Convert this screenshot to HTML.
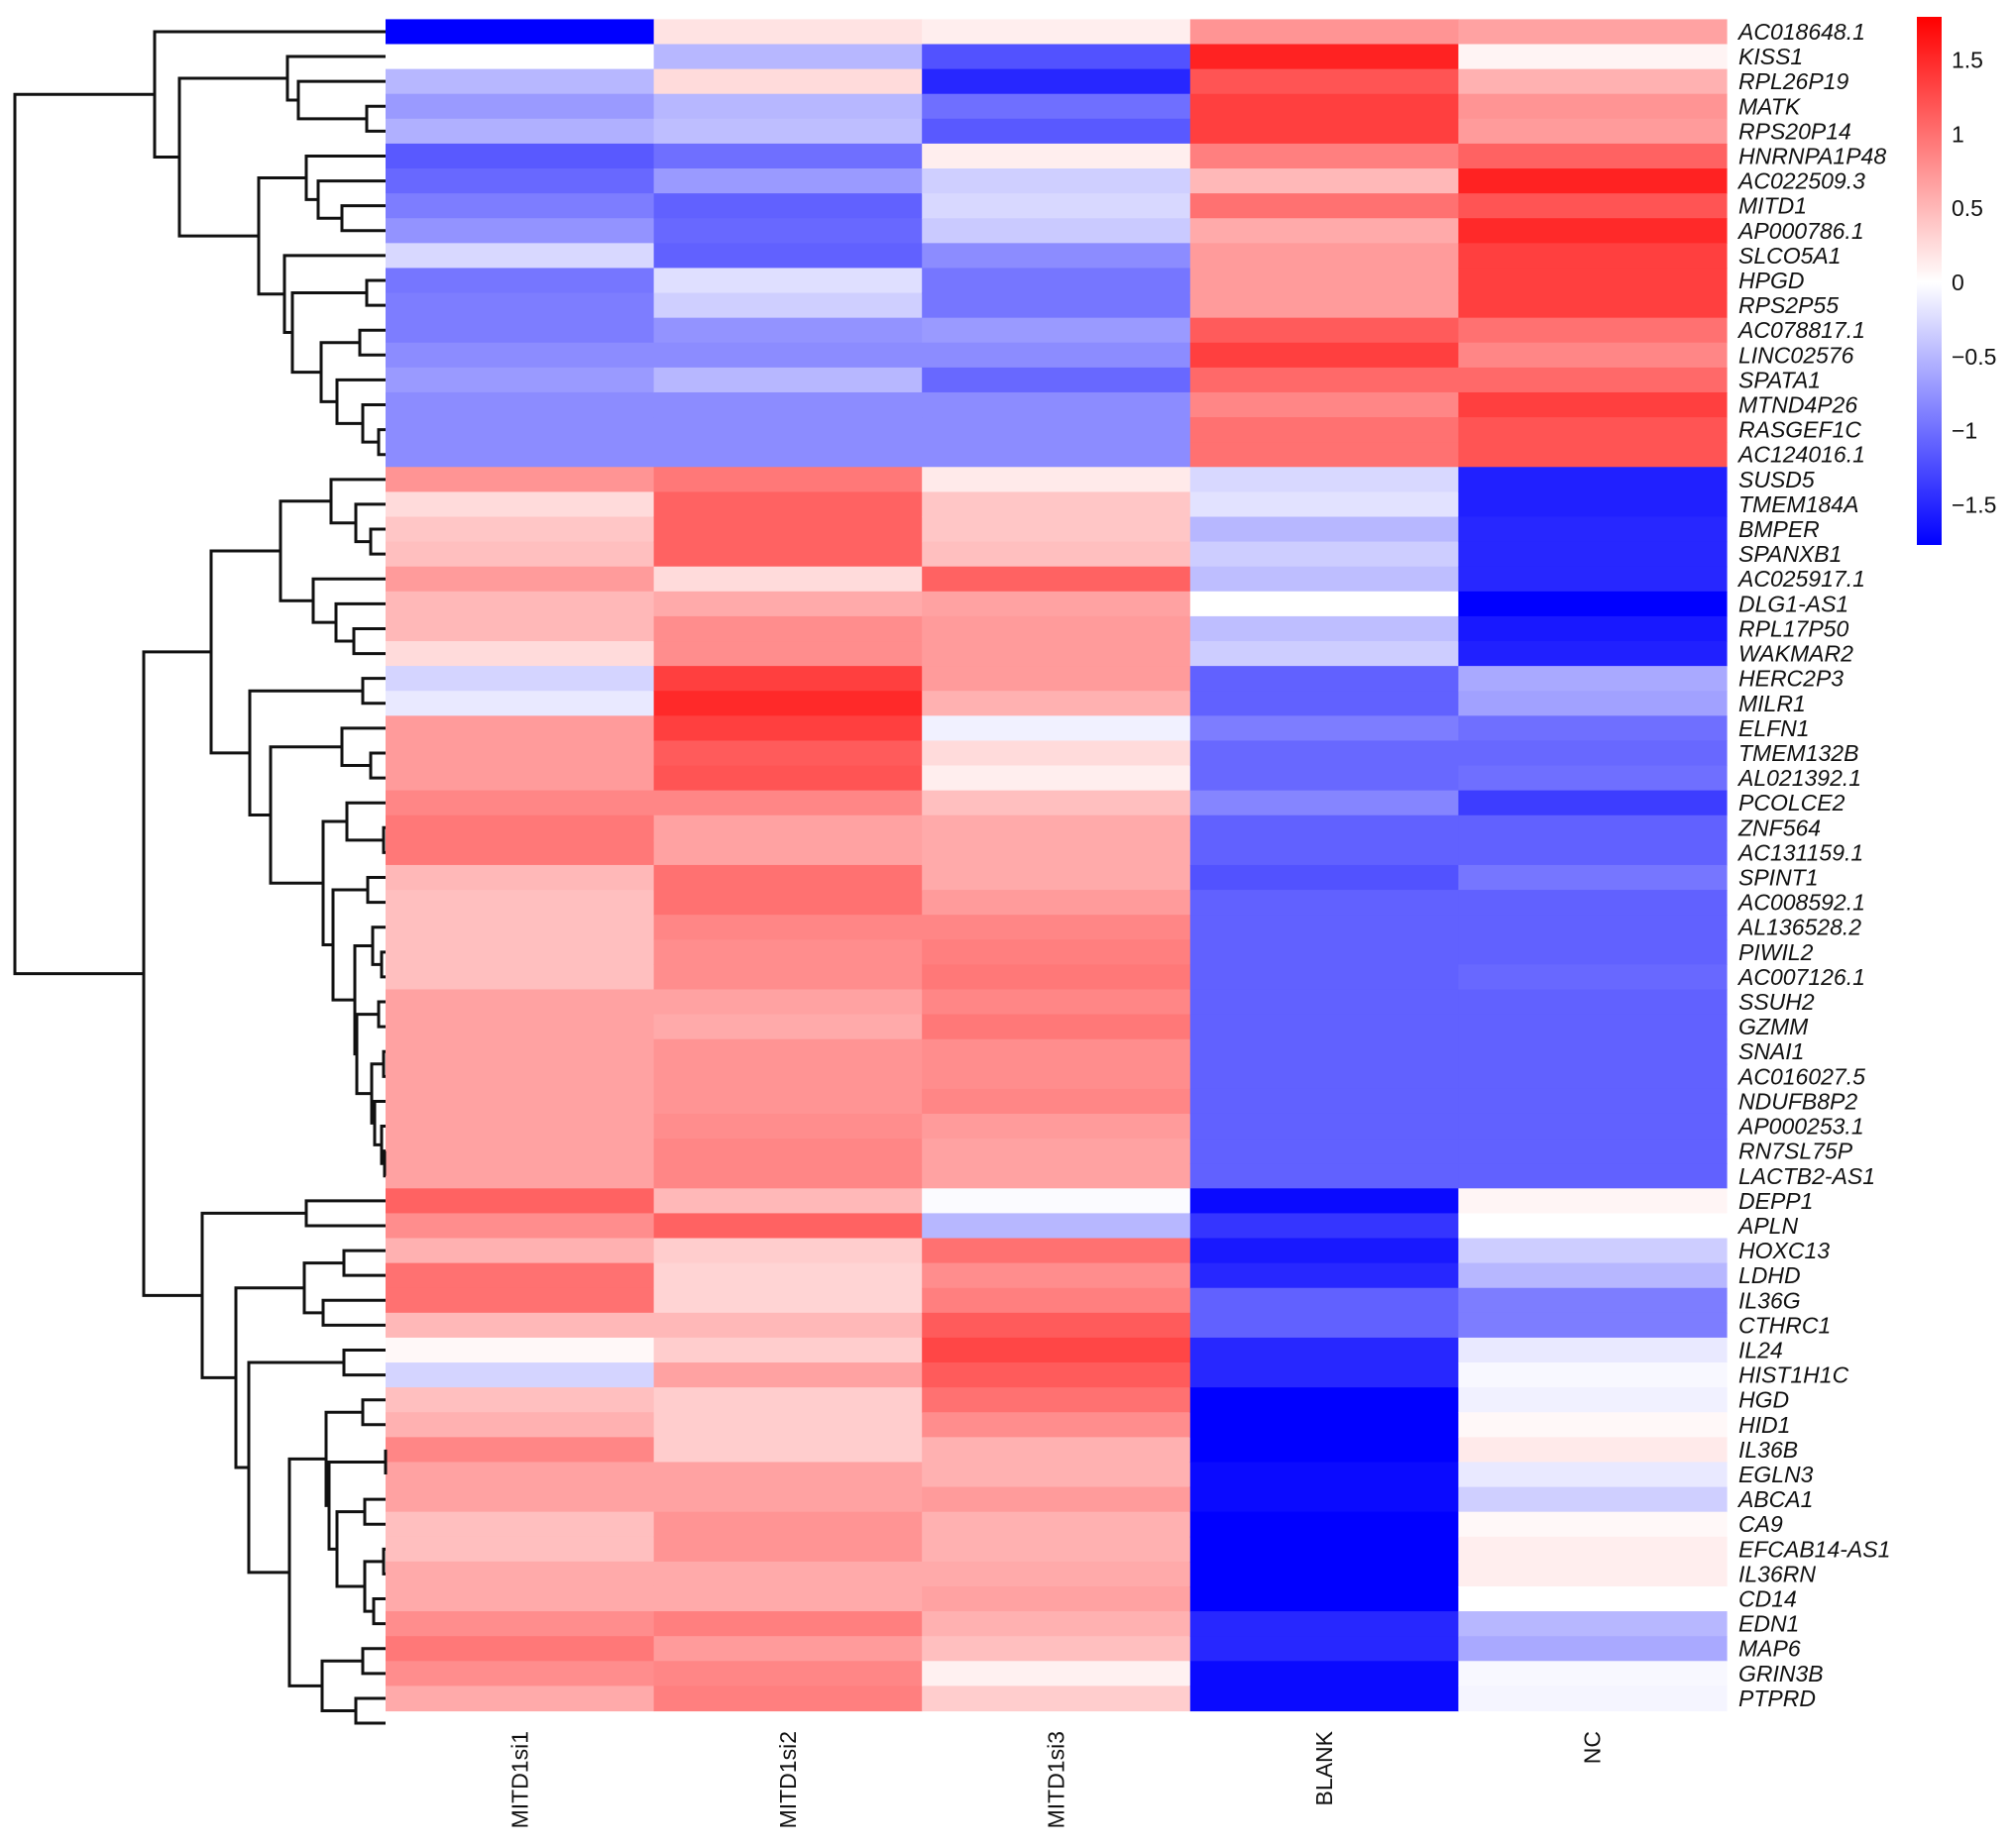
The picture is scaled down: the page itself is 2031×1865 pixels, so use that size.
<!DOCTYPE html>
<html><head><meta charset="utf-8"><title>Heatmap</title>
<style>
html,body{margin:0;padding:0;background:#fff;}
svg{display:block;font-family:"Liberation Sans",Arial,sans-serif;}
</style></head>
<body>
<svg id="chart" width="2031" height="1865" viewBox="0 0 2031 1865" xmlns="http://www.w3.org/2000/svg">
<defs>
<linearGradient id="cbgrad" x1="0" y1="0" x2="0" y2="1">
<stop offset="0" stop-color="#ff0000"/>
<stop offset="0.5028" stop-color="#ffffff"/>
<stop offset="1" stop-color="#0000ff"/>
</linearGradient>
</defs>
<g id="cells"></g>
<g id="dendro" fill="none" stroke="#111" stroke-width="3"></g>
<g id="rowlabels"></g>
<g id="collabels"></g>
<g id="colorbar"></g>
</svg>
<script>
const columns = ["MITD1si1","MITD1si2","MITD1si3","BLANK","NC"];
const genes = ["AC018648.1","KISS1","RPL26P19","MATK","RPS20P14","HNRNPA1P48","AC022509.3","MITD1","AP000786.1","SLCO5A1","HPGD","RPS2P55","AC078817.1","LINC02576","SPATA1","MTND4P26","RASGEF1C","AC124016.1","SUSD5","TMEM184A","BMPER","SPANXB1","AC025917.1","DLG1-AS1","RPL17P50","WAKMAR2","HERC2P3","MILR1","ELFN1","TMEM132B","AL021392.1","PCOLCE2","ZNF564","AC131159.1","SPINT1","AC008592.1","AL136528.2","PIWIL2","AC007126.1","SSUH2","GZMM","SNAI1","AC016027.5","NDUFB8P2","AP000253.1","RN7SL75P","LACTB2-AS1","DEPP1","APLN","HOXC13","LDHD","IL36G","CTHRC1","IL24","HIST1H1C","HGD","HID1","IL36B","EGLN3","ABCA1","CA9","EFCAB14-AS1","IL36RN","CD14","EDN1","MAP6","GRIN3B","PTPRD"];
const valuesSi1 = [-1.77,0,-0.5,-0.7,-0.55,-1.15,-1.05,-0.9,-0.75,-0.27,-0.95,-0.9,-0.9,-0.8,-0.7,-0.8,-0.8,-0.8,0.75,0.25,0.4,0.45,0.7,0.5,0.5,0.25,-0.3,-0.15,0.7,0.7,0.7,0.85,0.95,0.95,0.5,0.45,0.45,0.45,0.45,0.65,0.65,0.65,0.65,0.65,0.65,0.65,0.65,1.1,0.8,0.55,1.0,1.0,0.5,0.05,-0.3,0.45,0.55,0.85,0.65,0.65,0.45,0.45,0.6,0.6,0.8,0.95,0.8,0.6];
const valuesSi2 = [0.2,-0.5,0.25,-0.5,-0.45,-1.0,-0.7,-1.1,-1.05,-1.1,-0.22,-0.33,-0.75,-0.8,-0.5,-0.8,-0.8,-0.8,0.95,1.1,1.1,1.1,0.25,0.6,0.8,0.8,1.35,1.5,1.35,1.15,1.2,0.85,0.65,0.65,1.0,1.0,0.85,0.8,0.8,0.65,0.6,0.75,0.75,0.75,0.8,0.85,0.85,0.5,1.1,0.35,0.3,0.3,0.5,0.35,0.65,0.35,0.35,0.35,0.65,0.65,0.75,0.75,0.6,0.6,0.9,0.7,0.85,0.9];
const valuesSi3 = [0.12,-1.2,-1.5,-1.0,-1.15,0.12,-0.33,-0.27,-0.37,-0.8,-0.95,-0.95,-0.7,-0.8,-1.05,-0.8,-0.8,-0.8,0.15,0.4,0.4,0.45,1.1,0.65,0.7,0.7,0.7,0.55,-0.1,0.25,0.12,0.45,0.6,0.6,0.6,0.7,0.85,0.9,0.95,0.85,0.95,0.8,0.8,0.85,0.7,0.65,0.65,-0.03,-0.5,1.0,0.8,0.9,1.15,1.3,1.15,1.0,0.8,0.55,0.55,0.7,0.55,0.55,0.6,0.65,0.55,0.45,0.1,0.35];
const valuesBlank = [0.75,1.55,1.2,1.35,1.35,0.9,0.5,1.0,0.6,0.7,0.7,0.7,1.15,1.35,1.05,0.85,1.0,1.0,-0.27,-0.2,-0.5,-0.35,-0.45,0,-0.45,-0.35,-1.1,-1.1,-0.9,-1.05,-1.05,-0.85,-1.1,-1.1,-1.2,-1.1,-1.1,-1.1,-1.1,-1.1,-1.1,-1.1,-1.1,-1.1,-1.1,-1.1,-1.1,-1.7,-1.4,-1.6,-1.5,-1.1,-1.1,-1.5,-1.5,-1.77,-1.77,-1.77,-1.7,-1.7,-1.77,-1.77,-1.77,-1.77,-1.5,-1.5,-1.7,-1.7];
const valuesNC = [0.65,0.08,0.55,0.75,0.7,1.1,1.55,1.2,1.5,1.35,1.35,1.35,1.0,0.85,1.05,1.35,1.2,1.2,-1.55,-1.55,-1.5,-1.5,-1.5,-1.77,-1.6,-1.55,-0.6,-0.65,-1.0,-1.05,-1.0,-1.35,-1.1,-1.1,-0.95,-1.1,-1.1,-1.1,-1.05,-1.1,-1.1,-1.1,-1.1,-1.1,-1.1,-1.1,-1.1,0.07,0,-0.35,-0.5,-0.9,-0.9,-0.15,-0.05,-0.1,0.05,0.15,-0.15,-0.33,0.05,0.12,0.12,0,-0.5,-0.6,-0.05,-0.07];
const colorTicks = [1.5,1,0.5,0,-0.5,-1,-1.5];
const colorTickLabels = ["1.5","1","0.5","0","\u22120.5","\u22121","\u22121.5"];
// dendrogram: [height-x, child, child] ; leaves are row indices
const dendroTree = [15,
  [156, 0,
    [181,
      [290, 1, [301, 2, [370, 3, 4]]],
      [261,
        [309, 5, [321, 6, [345, 7, 8]]],
        [287, 9, [295, [370, 10, 11], [324, [363, 12, 13], [340, 14, [366, 15, [382, 16, 17]]]]]]
      ]
    ]
  ],
  [145,
    [213,
      [283,
        [334, 18, [359, 19, [374, 20, 21]]],
        [316, 22, [339, 23, [357, 24, 25]]]
      ],
      [252,
        [366, 26, 27],
        [273,
          [345, 28, [374, 29, 30]],
          [326,
            [350, 31, [387, 32, 33]],
            [336,
              [371, 34, 35],
              [358,
                [376, 36, [385, 37, 38]],
                [360, [382, 39, 40], [375, [387, 41, 42], [378, 43, [385, 44, [388, 45, 46]]]]]
              ]
            ]
          ]
        ]
      ]
    ],
    [204,
      [309, 47, 48],
      [238,
        [307, [347, 49, 50], [326, 51, 52]],
        [251,
          [347, 53, 54],
          [292,
            [329, [366, 55, 56], [332, [389, 57, 58], [340, [368, 59, 60], [368, [387, 61, 62], [377, 63, 64]]]]],
            [325, [366, 65, 66], [359, 67, 68]]
          ]
        ]
      ]
    ]
  ]
];

const NS = "http://www.w3.org/2000/svg";
const HX0 = 389, HX1 = 1742, HY0 = 19.4, HY1 = 1726.5;
const nRows = genes.length, nCols = columns.length;
const cw = (HX1 - HX0) / nCols, rh = (HY1 - HY0) / nRows;
const VMAX = 1.79, VMIN = -1.77;
const series = [valuesSi1, valuesSi2, valuesSi3, valuesBlank, valuesNC];
function xCol(i){ return HX0 + i * cw; }
function yRow(r){ return HY0 + r * rh; }
function color(v){
  if (v >= 0){ const t = Math.min(v / VMAX, 1); const c = Math.round(255 * (1 - t)); return `rgb(255,${c},${c})`; }
  const t = Math.min(v / VMIN, 1); const c = Math.round(255 * (1 - t)); return `rgb(${c},${c},255)`;
}
function mk(tag, attrs, parent){ const e = document.createElementNS(NS, tag); for (const k in attrs) e.setAttribute(k, attrs[k]); parent.appendChild(e); return e; }

const cells = document.getElementById('cells');
for (let c = 0; c < nCols; c++){
  for (let r = 0; r < nRows; r++){
    const rect = mk('rect', {x: xCol(c), y: yRow(r), width: cw + 0.6, height: rh + 0.6, fill: color(series[c][r])}, cells);
    
    
  }
}

const rl = document.getElementById('rowlabels');
genes.forEach((g, r) => {
  const t = mk('text', {x: 1754, y: yRow(r) + rh / 2 + 8, 'font-size': 23, 'font-style': 'italic', fill: '#111'}, rl);
  t.textContent = g;
  
  
});

const cl = document.getElementById('collabels');
columns.forEach((c, i) => {
  const cx = xCol(i) + cw / 2 + 8, cy = 1747;
  const t = mk('text', {x: cx, y: cy, 'font-size': 23, 'text-anchor': 'end', fill: '#111', transform: `rotate(-90 ${cx} ${cy})`}, cl);
  t.textContent = c;
  
  
});

// dendrogram
const dg = document.getElementById('dendro');
function draw(node){
  if (typeof node === 'number') return {x: HX0, y: yRow(node) + rh / 2};
  const h = node[0];
  const a = draw(node[1]), b = draw(node[2]);
  const p = mk('path', {d: `M${a.x},${a.y}H${h}V${b.y}H${b.x}`}, dg);
  
  
  return {x: h, y: (a.y + b.y) / 2};
}
draw(dendroTree);

// color bar
const cb = document.getElementById('colorbar');
const CBY0 = 17, CBY1 = 550;
function yVal(v){ return CBY0 + (VMAX - v) / (VMAX - VMIN) * (CBY1 - CBY0); }
const bar = mk('rect', {x: 1934, y: CBY0, width: 25, height: CBY1 - CBY0, fill: 'url(#cbgrad)'}, cb);


colorTicks.forEach((v, i) => {
  const t = mk('text', {x: 1969, y: yVal(v) + 8, 'font-size': 23, fill: '#111'}, cb);
  t.textContent = colorTickLabels[i];
  
  
});
</script>
</body></html>
